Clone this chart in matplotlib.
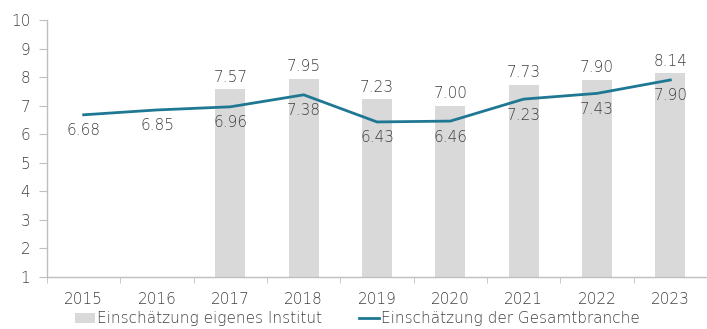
import matplotlib.pyplot as plt
import numpy as np
from matplotlib.patches import Patch
from matplotlib.lines import Line2D

years = ["2015", "2016", "2017", "2018", "2019", "2020", "2021", "2022", "2023"]
# own institute rating (bars), only from 2017 on
institut = [None, None, 7.57, 7.95, 7.23, 7.00, 7.73, 7.90, 8.14]
# whole industry rating (line)
branche = [6.68, 6.85, 6.96, 7.38, 6.43, 6.46, 7.23, 7.43, 7.90]

bar_color = "#d9d9d9"
line_color = "#1f7893"
text_color = "#404040"
axis_color = "#bfbfbf"

plt.rcParams["font.family"] = ["DejaVu Sans"]
plt.rcParams["font.weight"] = "light"

fig = plt.figure(figsize=(7.07, 3.29), dpi=100)
ax = fig.add_axes([47 / 707, 1 - 277 / 329, 660 / 707, 257 / 329])

x = np.arange(len(years))
bx = [i for i, v in zip(x, institut) if v is not None]
bv = [v for v in institut if v is not None]

# bars start at the axis floor (1)
ax.bar(bx, [v - 1 for v in bv], bottom=1, width=0.41, color=bar_color, zorder=1)
ax.plot(x, branche, color=line_color, lw=2, zorder=2)

for i, v in zip(bx, bv):
    ax.annotate(f"{v:.2f}", (i, v), xytext=(0, 12), textcoords="offset pixels",
                ha="center", va="center", fontsize=11, color=text_color)
for i, v in zip(x, branche):
    ax.annotate(f"{v:.2f}", (i, v), xytext=(0, -16), textcoords="offset pixels",
                ha="center", va="center", fontsize=11, color=text_color)

ax.set_xlim(-0.5, len(years) - 0.5)
ax.set_ylim(1, 10)
ax.set_yticks(range(1, 11))
ax.set_xticks(x)
ax.set_xticklabels(years)
ax.set_xticks(np.arange(-0.5, len(years), 1.0), minor=True)

for s in ["top", "right"]:
    ax.spines[s].set_visible(False)
for s in ["left", "bottom"]:
    ax.spines[s].set_color(axis_color)
    ax.spines[s].set_linewidth(1)

ax.tick_params(axis="y", colors=axis_color, labelcolor=text_color, labelsize=11,
               length=6, pad=6)
ax.tick_params(axis="x", which="major", length=0, labelcolor=text_color,
               labelsize=11, pad=11)
ax.tick_params(axis="x", which="minor", length=4, color=axis_color)

handles = [Patch(facecolor=bar_color, edgecolor="none"),
           Line2D([0], [0], color=line_color, lw=2)]
labels = ["Einschätzung eigenes Institut", "Einschätzung der Gesamtbranche"]
fig.legend(handles, labels, loc="center left", bbox_to_anchor=(75 / 707, 1 - 319 / 329),
           ncol=2, frameon=False, fontsize=11, labelcolor=text_color,
           handlelength=1.3, handleheight=0.55, handletextpad=0.15, columnspacing=2.4,
           borderaxespad=0, borderpad=0)

fig.savefig("out.png", dpi=100)
